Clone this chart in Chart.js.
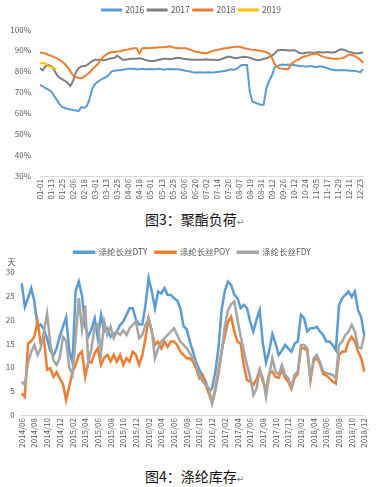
<!DOCTYPE html>
<html><head><meta charset="utf-8">
<script src="https://cdn.jsdelivr.net/npm/chart.js@4.4.1/dist/chart.umd.min.js"></script>
<style>
html,body{margin:0;padding:0;background:#fff;}
#wrap{position:relative;width:377px;height:487px;overflow:hidden;background:#fff;}
canvas{position:absolute;left:0;}
.cap{position:absolute;left:145px;font-family:"Noto Sans CJK SC",sans-serif;font-size:14px;line-height:20px;color:#111;white-space:nowrap;}
.cap span{font-family:"DejaVu Sans",sans-serif;font-size:9px;color:#777;}
</style></head><body>
<div id="wrap">
<canvas id="c1" width="377" height="206" style="top:0"></canvas>
<div class="cap" style="top:209px">图3：聚酯负荷<span>↵</span></div>
<canvas id="c2" width="377" height="215" style="top:240px"></canvas>
<div class="cap" style="top:466px">图4：涤纶库存<span>↵</span></div>
</div>
<script>
// ---------- Chart 1: 聚酯负荷 (%) ----------
const dayTicks = ['01-01','01-13','01-25','02-06','02-18','03-01','03-13','03-25','04-06','04-18','05-01','05-13','05-25','06-06','06-20','07-02','07-14','07-26','08-07','08-19','08-31','09-12','09-26','10-12','10-24','11-05','11-17','11-29','12-11','12-23'];
const year2016 = [73.5,72.8,72,71.3,70.5,68.5,66.5,64.5,63,62.5,
62,61.8,61.5,61.3,61,63,62.5,63.5,67,72,
74,75,76,76.8,77.3,78.5,80,80.3,80.5,80.5,
80.8,81,81.3,81.3,81.2,81,81,81.2,81,81,
81.1,81,81,81.2,81,80.9,81,81.1,81,81,
81,80.8,80.5,80.2,80,79.7,79.5,79.5,79.6,79.5,
79.5,79.6,79.5,79.5,79.7,79.8,80,80.2,80.5,81,
80.8,81,82,83,83,83,70,65.5,65,64.5,
64,64,72,75.5,78,82,82.5,83,83.3,83,
83.3,83,83,82.8,82.6,82.5,82.3,82.3,82.5,82.3,
82,82.3,82.3,82,81.5,81,80.8,80.5,80.5,80.5,
80.6,80.5,80.3,80.3,80.2,80,79.5,81];
const year2017 = [81.5,80.5,82.5,83,82.5,81,78.5,77,76.3,75.5,
74.5,73,75.5,79.5,81.5,82.5,82.5,83,84,85,
85.5,85.5,85.5,85.3,85.5,86,86.3,86.5,87.5,86.5,
85.5,85.5,85.8,86,86,86,86.2,86,85.5,85.2,
85,85,85.2,85.5,85.8,86,86,85.8,86,86.3,
86.5,86.3,86,85.8,85.8,85.6,85.6,85.5,85.5,85.6,
85.8,85.5,85.5,85.6,85.3,85.5,86,86.5,87,87,
86.5,86.3,86.5,86.8,87,86.8,86.5,86,85.5,85.3,
85.5,86,86.3,86.8,87.5,88.5,90,90.2,90.2,90.2,
90,90,90.2,89.5,88.8,88.5,88.8,89,89,88.8,
89,89.2,89,89,89.2,89,89,89.2,90,90.5,
90.3,89.8,89.3,89,88.6,88.5,88.8,89];
const year2018 = [89,88.8,88.5,87.8,87.5,86.8,86.3,85.5,84.7,83.5,
82,80,78,77.3,76.8,76.7,77.5,78.5,79.5,81,
82.3,83.5,85.5,87,88,88.8,89.2,89.3,89.5,89.6,
90,90.3,90.5,90.8,91,91,88.5,91,91.2,91,
91.2,91.3,91.3,91.5,91.5,91.5,91.8,92,91.5,91.3,
91,91,91,91,90.5,90,89.5,89.3,89,88.8,
88.6,89,89.5,90,90.2,90.5,90.8,91,91.2,91.4,
91.6,91.8,91.8,91.5,91,90.8,90.5,90.3,90.2,90,
89.8,89.5,89.2,88.5,86.5,83.5,82,81.3,81.2,81,
81.2,83.5,84.5,85.3,86,86.8,87.2,87.5,88,88.3,
88.5,88,87.3,86.8,86.5,86.3,86,86,86,86.2,
86.5,87.3,88,87.8,87.3,86.5,85.5,84];
const year2019 = [83.8,84,83.8,82.5,82,81.5,81.3];

// ---------- Chart 2: 涤纶库存 (天) ----------
const monthTicks = ['2014/06','2014/08','2014/10','2014/12','2015/02','2015/04','2015/06','2015/08','2015/10','2015/12','2016/02','2016/04','2016/06','2016/08','2016/10','2016/12','2017/02','2017/04','2017/06','2017/08','2017/10','2017/12','2018/02','2018/04','2018/06','2018/08','2018/10','2018/12'];
const dtyStock = [27.6,22.7,24.5,26.6,23.8,18.5,19,18,16,13.5,
12.5,14,16.5,18.5,20.5,13.5,11,26,28,25,
18.5,16.5,18,20.3,16,21,17.5,18.2,16.4,17,
17.5,18.9,19.6,21,22.4,22.4,20,19,19,23,
28.7,25.9,22.4,25.9,25.5,26.6,25.2,25.2,24.5,24,
22.4,18.6,18,15.4,13.3,11,9.5,8.2,7,4.9,
5.6,9,14,22,26,28,27.3,25.2,24.5,22.4,
23.1,22.4,19.6,17.5,20,22,15,11,13.5,17,
15,12.6,13.5,14.7,14,13.3,15,15.4,21,20.3,
17.5,18.2,18.2,18.5,17.5,16.8,15.4,15.4,14.7,13.6,
23,24.5,25.2,25.9,24.8,25.9,22,20.5,16.5];
const poyStock = [4.5,3.8,15,15.5,16.5,19.6,15,16,9.5,9.8,
8,9,7.7,6.5,3.1,6,9,10.5,12.6,13.3,
8,11.2,11,13,14,10.5,12,12.6,11.2,12.6,
11.2,12.6,10.5,11.9,11.2,13.3,12.6,10.5,12.5,16.1,
20.3,17.5,14.7,15.4,14,15.4,14.3,15.4,15.4,14.7,
13.3,12.6,11.9,11.9,11.2,9.8,7.7,8.4,6.3,4.5,
2.5,5.5,9.5,13.5,16.5,19.5,20.6,17.5,15.4,15,
10.5,7.3,7,6.3,7.5,9.5,7,5.5,8.7,9.1,
8,7.8,9.5,7.8,7,5.5,7.8,8.6,14,14,
13.5,7.2,11.3,12,10.7,8.6,8.3,7.7,7,6.6,
12.6,13.3,13.3,15.4,16.4,15.4,13.3,11.9,9.1];
const fdyStock = [7,6.3,11,13.3,14.7,12.6,14,17.5,21.3,15,
11.5,10.5,12,16.4,15.5,10,8.4,16,24.5,18,
23,11,14,18.5,19,13,19.6,16.8,18.5,16.1,
17.5,16.8,17.8,16.8,18.2,18.9,19.6,16.1,16.8,18.9,
20.3,17.5,11.9,14,15.4,16.1,16.8,17.5,18.2,16.8,
15.4,14.7,14,13,11.9,10.5,8.4,7,6.3,5.6,
2.5,5,8.5,13,18.5,22,23.2,23.8,20,16.5,
13.5,10.5,8,4.2,5.5,9.5,7.7,3.8,8.4,11.9,
9.1,8.4,10.5,8.4,7.7,5.9,8.4,9.1,14.7,14.7,
14,7.7,11.9,12.6,11.2,9.1,8.8,8.6,8.4,7.7,
14.7,15.4,16.8,17.5,18.9,17.5,14.3,14,16.8];

// categories: a tick label every `step` points, blanks in between
function buildCategories(ticks, n, step){
  const out = [];
  for (let i = 0; i < n; i++) out.push(i % step === 0 && ticks[i / step] !== undefined ? ticks[i / step] : '');
  return out;
}

Chart.defaults.font.family = '"Noto Sans CJK SC", "Noto Sans", sans-serif';
Chart.defaults.color = '#595959';

// fixes the legend block height and shifts it horizontally
const legendBox = {
  id: 'legendBox',
  afterInit(chart, args, opts) {
    const lg = chart.legend; if (!lg) return;
    const fit = lg.fit;
    lg.fit = function(){ fit.call(this); if (opts.height) this.height = opts.height; };
  },
  afterLayout(chart, args, opts) {
    const lg = chart.legend; if (!lg || !opts.dx) return;
    lg.left += opts.dx; lg.right += opts.dx;
  }
};
const unitText = {
  id: 'unitText',
  afterDraw(chart, args, opts) {
    if (!opts.text) return;
    const c = chart.ctx; c.save();
    c.font = opts.font; c.fillStyle = opts.color;
    c.textBaseline = 'middle'; c.textAlign = 'left';
    c.fillText(opts.text, opts.x, opts.y);
    c.restore();
  }
};

const legendSort = (a, b) => a.datasetIndex - b.datasetIndex;

new Chart(document.getElementById('c1'), {
  type: 'line',
  data: {
    labels: buildCategories(dayTicks, year2016.length, 4),
    datasets: [
      {label:'2016', data:year2016, borderColor:'#5B9BD5', backgroundColor:'#5B9BD5', order:4},
      {label:'2017', data:year2017, borderColor:'#7F7F7F', backgroundColor:'#7F7F7F', order:3},
      {label:'2018', data:year2018, borderColor:'#ED7D31', backgroundColor:'#ED7D31', order:2},
      {label:'2019', data:year2019, borderColor:'#FFC000', backgroundColor:'#FFC000', order:1}
    ]
  },
  options: {
    responsive:false, animation:false, events:[],
    layout:{padding:{left:2, right:14, top:2.25, bottom:0}},
    elements:{line:{borderWidth:2, tension:0}, point:{radius:0}},
    plugins:{
      legend:{position:'top', labels:{boxWidth:19, boxHeight:1, padding:3.5, font:{size:8.5}, color:'#595959', sort:legendSort}},
      tooltip:{enabled:false},
      legendBox:{height:27.25, dx:9}
    },
    scales:{
      x:{grid:{display:false, drawTicks:false}, border:{display:true, color:'#D9D9D9', width:1},
         ticks:{autoSkip:false, maxRotation:90, minRotation:90, padding:3, font:{size:8}, color:'#595959'},
         afterFit:s=>{s.height = 30;}},
      y:{min:30, max:100, grid:{display:false, drawTicks:false}, border:{display:false},
         ticks:{stepSize:10, padding:9, font:{size:8}, color:'#595959', callback:v=>v+'%'},
         afterFit:s=>{s.width = 38;}}
    }
  },
  plugins:[legendBox]
});

new Chart(document.getElementById('c2'), {
  type: 'line',
  data: {
    labels: buildCategories(monthTicks, dtyStock.length, 4),
    datasets: [
      {label:'涤纶长丝DTY', data:dtyStock, borderColor:'#5B9BD5', backgroundColor:'#5B9BD5', order:3},
      {label:'涤纶长丝POY', data:poyStock, borderColor:'#ED7D31', backgroundColor:'#ED7D31', order:2},
      {label:'涤纶长丝FDY', data:fdyStock, borderColor:'#A5A5A5', backgroundColor:'#A5A5A5', order:1}
    ]
  },
  options: {
    responsive:false, animation:false, events:[],
    layout:{padding:{left:2, right:5.5, top:0, bottom:0}},
    elements:{line:{borderWidth:2.5, tension:0}, point:{radius:0}},
    plugins:{
      legend:{position:'top', labels:{boxWidth:20, boxHeight:1, padding:8, font:{size:8.5}, color:'#595959', sort:legendSort}},
      tooltip:{enabled:false},
      legendBox:{height:32, dx:5.75},
      unitText:{text:'天', x:7.5, y:22, font:'8px "Noto Sans CJK SC", sans-serif', color:'#404040'}
    },
    scales:{
      x:{grid:{display:false, drawTicks:false}, border:{display:true, color:'#D9D9D9', width:1},
         ticks:{autoSkip:false, maxRotation:90, minRotation:90, padding:3, font:{size:8}, color:'#595959'},
         afterFit:s=>{s.height = 40;}},
      y:{min:0, max:30, grid:{display:false, drawTicks:false}, border:{display:false},
         ticks:{stepSize:5, padding:7, font:{size:8}, color:'#595959'},
         afterFit:s=>{s.width = 19.7;}}
    }
  },
  plugins:[legendBox, unitText]
});
</script>
</body></html>
